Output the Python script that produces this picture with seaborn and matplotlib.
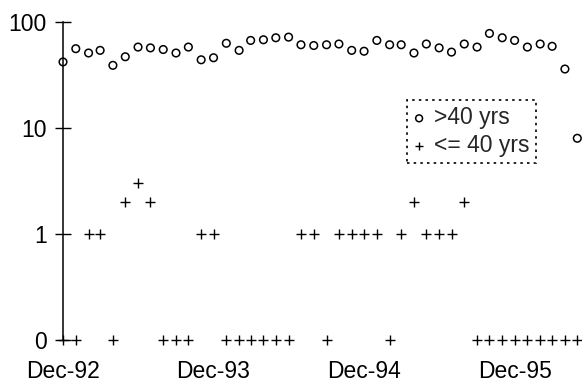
import matplotlib
matplotlib.use("Agg")
import matplotlib.pyplot as plt
import matplotlib.dates as mdates
from matplotlib.ticker import FixedLocator, FixedFormatter, NullLocator
import numpy as np
import pandas as pd
import seaborn as sns

# monthly counts, Dec-92 .. May-96
months = pd.date_range("1992-12-01", periods=42, freq="MS")
over_40 = [42, 56, 51, 54, 39, 47, 58, 57, 55, 51, 58, 44, 46, 63, 54, 67, 68, 71, 72, 61, 60,
           61, 62, 54, 53, 67, 61, 61, 51, 62, 57, 52, 62, 58, 78, 71, 67, 58, 62, 59, 36, 8]
upto_40 = [0, 0, 1, 1, 0, 2, 3, 2, 0, 0, 0, 1, 1, 0, 0, 0, 0, 0, 0, 1, 1,
           0, 1, 1, 1, 1, 0, 1, 2, 1, 1, 1, 2, 0, 0, 0, 0, 0, 0, 0, 0, 0]
y_ticks = [0.1, 1, 10, 100]          # zero is drawn on the 0.1 line of the log axis
y_tick_labels = ["0", "1", "10", "100"]
x_tick_months = ["1992-12-01", "1993-12-01", "1994-12-01", "1995-12-01"]

df = pd.DataFrame({"month": months, "over": over_40, "upto": upto_40})
df["upto_plot"] = df["upto"].replace(0, 0.1)

sns.set_style("ticks")
plt.rcParams["font.family"] = ["Liberation Sans", "DejaVu Sans"]

fig = plt.figure(figsize=(5.82, 3.82), dpi=100)
ax = fig.add_axes([63 / 582, 42 / 382, 518 / 582, 318 / 382])

sns.scatterplot(data=df, x="month", y="over", marker="o", s=30, facecolors="none",
                edgecolors="black", linewidth=1.1, label=">40 yrs", clip_on=False, ax=ax)
sns.scatterplot(data=df, x="month", y="upto_plot", marker="+", s=45, color="black",
                linewidth=1.0, label="<= 40 yrs", clip_on=False, ax=ax)

ax.set_yscale("log")
ax.set_ylim(0.1, 100)
ax.yaxis.set_major_locator(FixedLocator(y_ticks))
ax.yaxis.set_major_formatter(FixedFormatter(y_tick_labels))
ax.yaxis.set_minor_locator(NullLocator())

ax.set_xlim(months[0], months[-1] + pd.Timedelta(days=9))
ax.set_xticks(pd.to_datetime(x_tick_months))
ax.xaxis.set_major_formatter(mdates.DateFormatter("%b-%y"))
ax.xaxis.set_minor_locator(NullLocator())

ax.set_xlabel("")
ax.set_ylabel("")
for side in ["top", "right", "bottom"]:
    ax.spines[side].set_visible(False)
ax.spines["left"].set_linewidth(1.1)
ax.spines["left"].set_color("black")

ax.tick_params(axis="y", direction="inout", length=11.5, width=1, pad=6, labelsize=16.5, colors="black")
ax.tick_params(axis="x", length=0, pad=14.5, labelsize=16.5, colors="black")

leg = ax.legend(loc="upper left", bbox_to_anchor=(0.664, 0.755), borderaxespad=0,
                fontsize=16.5, markerscale=0.9, handlelength=0.5, handletextpad=0.4,
                borderpad=0.28, labelspacing=0.2, fancybox=False, framealpha=1)
frame = leg.get_frame()
frame.set_edgecolor("black")
frame.set_linewidth(1.2)
frame.set_linestyle((0, (1.5, 2.5)))

fig.savefig("out.png", dpi=100)
